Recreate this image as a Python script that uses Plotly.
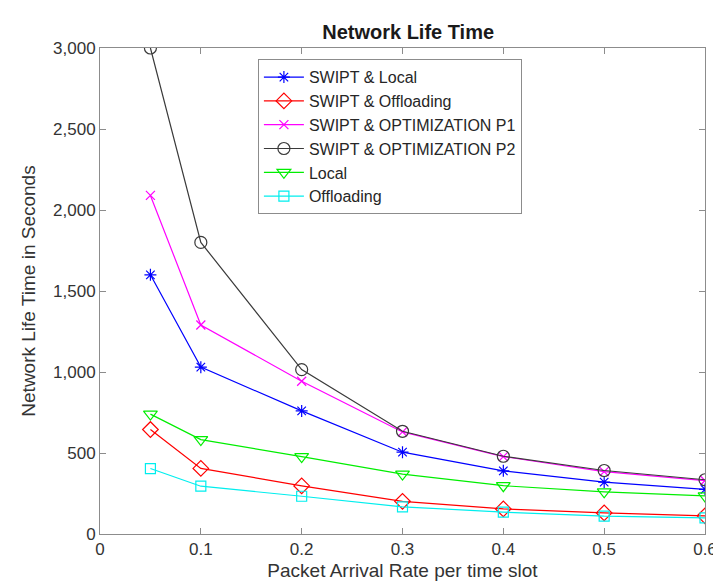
import plotly.graph_objects as go

x_rate = [0.05, 0.1, 0.2, 0.3, 0.4, 0.5, 0.6]
swipt_local = [1600, 1030, 760, 505, 390, 320, 275]
swipt_offloading = [645, 405, 297, 202, 155, 130, 112]
swipt_opt_p1 = [2090, 1290, 943, 630, 478, 385, 330]
swipt_opt_p2 = [3000, 1800, 1015, 634, 480, 392, 335]
local_only = [740, 583, 478, 370, 298, 260, 235]
offloading_only = [404, 295, 233, 168, 135, 110, 100]

series_names = ["SWIPT & Local", "SWIPT & Offloading", "SWIPT & OPTIMIZATION P1",
                "SWIPT & OPTIMIZATION P2", "Local", "Offloading"]
series_values = [swipt_local, swipt_offloading, swipt_opt_p1, swipt_opt_p2, local_only, offloading_only]
colors = ["#0000ff", "#ff0000", "#ff00ff", "#3a3a3a", "#00ee00", "#00eeee"]
symbols = ["asterisk-open", "diamond-open", "x-thin-open", "circle-open", "triangle-down-open", "square-open"]
sizes = [10, 12, 9, 12, 12, 10]

x_ticks = [0, 0.1, 0.2, 0.3, 0.4, 0.5, 0.6]
x_ticklabels = ["0", "0.1", "0.2", "0.3", "0.4", "0.5", "0.6"]
y_ticks = [0, 500, 1000, 1500, 2000, 2500, 3000]
y_ticklabels = ["0", "500", "1,000", "1,500", "2,000", "2,500", "3,000"]

fig = go.Figure()
for name, vals, c, s, sz in zip(series_names, series_values, colors, symbols, sizes):
    fig.add_trace(go.Scatter(
        x=x_rate, y=vals, name=name, mode="lines+markers",
        line=dict(color=c, width=1.2),
        marker=dict(symbol=s, size=sz, color=c, line=dict(color=c, width=1.2)),
    ))

font_family = "Liberation Sans, Arial, sans-serif"
axis_common = dict(
    showline=True, linecolor="#8c8c8c", linewidth=1, mirror="ticks",
    ticks="inside", ticklen=6, tickcolor="#8c8c8c", showgrid=False, zeroline=False,
    tickfont=dict(size=17, color="#333333", family=font_family),
)

fig.update_layout(
    width=721, height=583,
    margin=dict(l=92, r=13, t=40, b=57),
    paper_bgcolor="white", plot_bgcolor="white",
    font=dict(family=font_family, color="#262626"),
    title=dict(text="<b>Network Life Time</b>", x=0.555, xanchor="center",
               y=0.958, yanchor="middle", font=dict(size=20, color="#1a1a1a")),
    xaxis=dict(range=[0, 0.6], tickvals=x_ticks, ticktext=x_ticklabels,
               title=dict(text="Packet Arrival Rate per time slot", standoff=5,
                          font=dict(size=19, color="#333333")),
               **axis_common),
    yaxis=dict(range=[0, 3000], tickvals=y_ticks, ticktext=y_ticklabels,
               title=dict(text="Network Life Time in Seconds", standoff=12,
                          font=dict(size=19, color="#333333")),
               **axis_common),
    legend=dict(x=0.261, y=0.977, xanchor="left", yanchor="top",
                bgcolor="white", bordercolor="#8c8c8c", borderwidth=1,
                font=dict(size=16, color="#262626"), itemwidth=40,
                tracegroupgap=0),
    showlegend=True,
)

fig.write_html("out.html")
